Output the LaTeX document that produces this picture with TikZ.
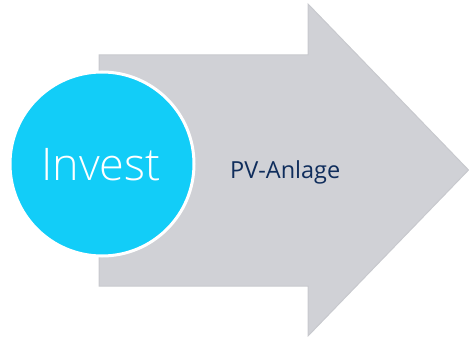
\documentclass[tikz,border=0pt]{standalone}
\usepackage{fontspec}
\setmainfont{Open Sans}
\IfFontExistsTF{Open Sans Light}{\newfontfamily\investfont{Open Sans Light}}{\newfontfamily\investfont{Open Sans}}
\definecolor{arrowgray}{HTML}{D0D1D6}
\definecolor{arrowedge}{HTML}{C8C9CE}
\definecolor{investcyan}{HTML}{12CDF8}
\definecolor{navy}{HTML}{0F2D5C}
\begin{document}
\begin{tikzpicture}[x=1pt,y=-1pt,
  bigarrow/.style={fill=arrowgray,draw=arrowedge,line width=1pt,line join=miter},
  investcircle/.style={circle,fill=investcyan,draw=white,line width=3pt,minimum size=184pt,inner sep=0pt},
  investtext/.style={text=white,font=\investfont\fontsize{45}{48}\selectfont,inner sep=0pt},
  labeltext/.style={text=navy,font=\fontsize{23.5}{27}\selectfont,inner sep=0pt}]
\useasboundingbox (0,0) rectangle (469,337);
\draw[bigarrow] (99,55) -- (308,55) -- (308,4) -- (468.5,170) -- (308,336) -- (308,286) -- (99,286) -- cycle;
\node[investcircle] (circ) at (102,164) {};
\node[investtext,anchor=base] (invest) at (101,180) {Invest};
\node[labeltext,anchor=base west] (pv) at (230,178) {PV-Anlage};
\end{tikzpicture}
\end{document}
